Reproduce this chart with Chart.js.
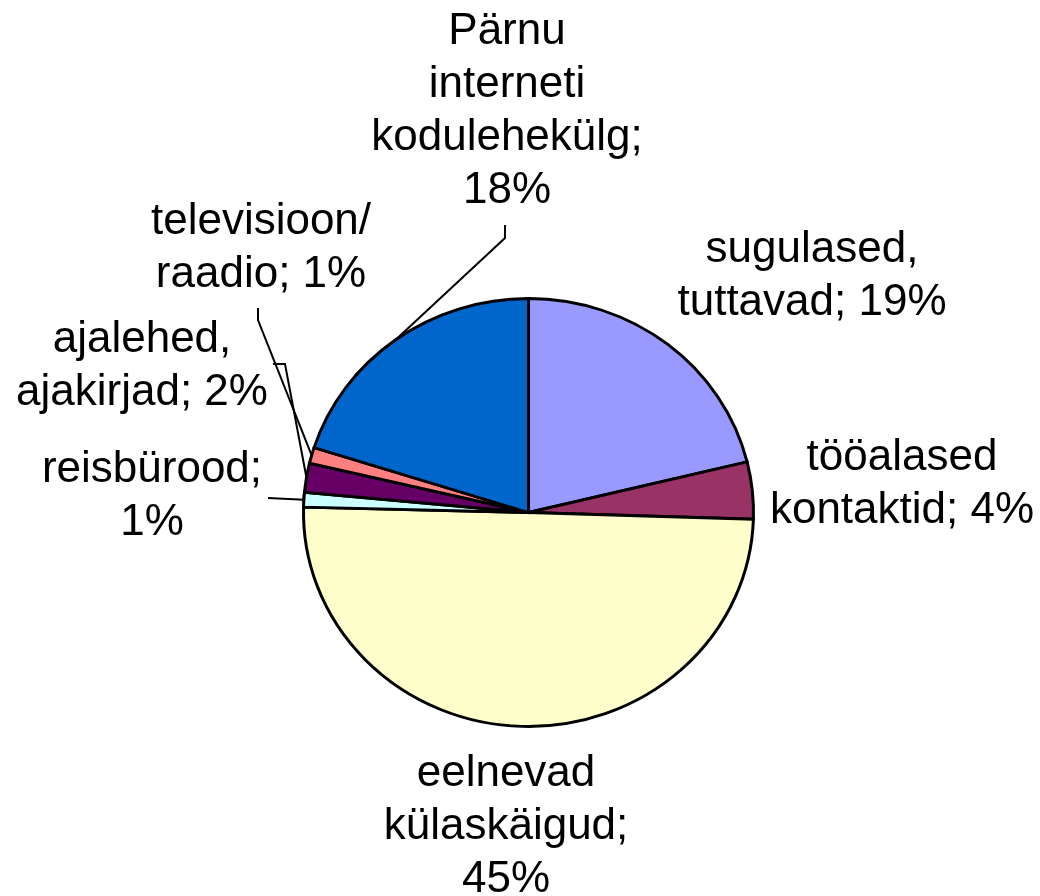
<!DOCTYPE html>
<html lang="et">
<head>
<meta charset="UTF-8">
<title>Infoallikad</title>
<script src="https://cdn.jsdelivr.net/npm/chart.js"></script>
<style>
  html, body { margin: 0; padding: 0; background: #fff; }
  #wrap { width: 1040px; height: 896px; }
</style>
</head>
<body>
<div id="wrap"><canvas id="pirukas" width="1040" height="896"></canvas></div>
<script>
  // andmed
  const kategooriad = ['sugulased, tuttavad', 'tööalased kontaktid', 'eelnevad külaskäigud', 'reisbürood',
                       'ajalehed, ajakirjad', 'televisioon/raadio', 'Pärnu interneti kodulehekülg'];
  const vaartused = [21.2, 4.3, 49.9, 1.1, 2.2, 1.2, 20.1];
  const protsendid = ['19%', '4%', '45%', '1%', '2%', '1%', '18%'];
  const varvid = ['#9999FF', '#993366', '#FFFFCC', '#CCFFFF', '#660066', '#FF8080', '#0066CC'];

  // sildi read; protsent kas viimase rea lõppu või eraldi reale
  const nimeRead = [
    ['sugulased,', 'tuttavad;'],
    ['tööalased', 'kontaktid;'],
    ['eelnevad', 'külaskäigud;'],
    ['reisbürood;'],
    ['ajalehed,', 'ajakirjad;'],
    ['televisioon/', 'raadio;'],
    ['Pärnu', 'interneti', 'kodulehekülg;']
  ];
  const protsentEraldi = [false, false, true, true, false, false, true];

  // paigutus: sildi keskpunkt ja juhtjoone algus
  const sildiKoht = [[812, 250], [902, 458], [506, 774], [152, 470], [142, 340], [261, 222], [507, 32]];
  const juhtjooned = [null, null, null, [[268, 498]], [[273, 364], [285, 364]], [[258, 308], [258, 320]], [[505, 225], [505, 238]]];

  const SY = 214 / 225; // kergelt lapik pirukas
  const REAVAHE = 53;

  const lapik = {
    id: 'lapik',
    beforeDatasetsDraw(chart) {
      const a = chart.getDatasetMeta(0).data[0];
      const ctx = chart.ctx;
      ctx.save();
      ctx.translate(a.x, a.y);
      ctx.scale(1, SY);
      ctx.translate(-a.x, -a.y);
    },
    afterDatasetsDraw(chart) {
      chart.ctx.restore();
    }
  };

  const sildid = {
    id: 'sildid',
    afterDraw(chart) {
      const ctx = chart.ctx;
      const kaared = chart.getDatasetMeta(0).data;
      ctx.save();
      ctx.strokeStyle = '#000';
      ctx.lineWidth = 2;
      kaared.forEach((arc, i) => {
        const tee = juhtjooned[i];
        if (!tee) return;
        const p = arc.getProps(['x', 'y', 'startAngle', 'endAngle', 'outerRadius'], true);
        const kesk = (p.startAngle + p.endAngle) / 2;
        const ex = p.x + p.outerRadius * Math.cos(kesk);
        const ey = p.y + p.outerRadius * Math.sin(kesk) * SY;
        ctx.beginPath();
        ctx.moveTo(tee[0][0], tee[0][1]);
        for (let k = 1; k < tee.length; k++) ctx.lineTo(tee[k][0], tee[k][1]);
        ctx.lineTo(ex, ey);
        ctx.stroke();
      });

      ctx.fillStyle = '#000';
      ctx.font = '44px "Liberation Sans", Arial, sans-serif';
      ctx.textAlign = 'center';
      ctx.textBaseline = 'middle';
      nimeRead.forEach((r, i) => {
        const read = r.slice();
        if (protsentEraldi[i]) read.push(protsendid[i]);
        else read[read.length - 1] += ' ' + protsendid[i];
        read.forEach((t, k) => {
          ctx.fillText(t, sildiKoht[i][0], sildiKoht[i][1] + k * REAVAHE);
        });
      });
      ctx.restore();
    }
  };

  new Chart(document.getElementById('pirukas'), {
    type: 'pie',
    data: {
      labels: kategooriad,
      datasets: [{
        data: vaartused,
        backgroundColor: varvid,
        borderColor: '#000',
        borderWidth: 3,
        borderJoinStyle: 'miter',
        hoverOffset: 0
      }]
    },
    options: {
      responsive: false,
      animation: false,
      events: [],
      layout: { padding: { left: 302, right: 285, top: 286, bottom: 157 } },
      plugins: {
        legend: { display: false },
        tooltip: { enabled: false }
      }
    },
    plugins: [lapik, sildid]
  });
</script>
</body>
</html>
